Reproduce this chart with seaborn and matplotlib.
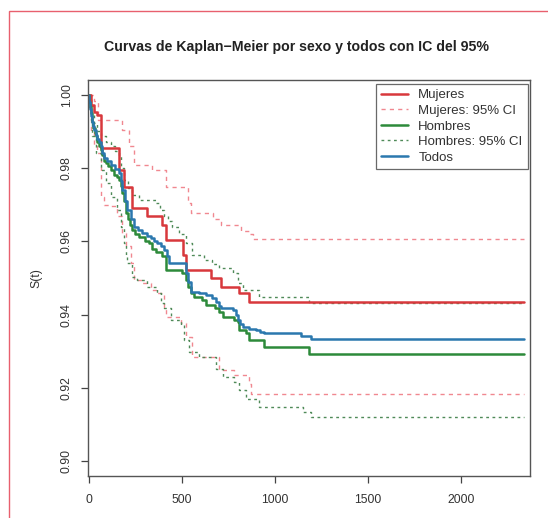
import matplotlib
matplotlib.use("Agg")
import matplotlib.pyplot as plt
import seaborn as sns
import pandas as pd
from matplotlib.lines import Line2D
from matplotlib.patches import Rectangle

# tiempo final de seguimiento (las curvas quedan planas hasta aqui)
t_end = 2340

# Kaplan-Meier, mujeres
t_muj = [0, 9, 27, 45, 63, 161, 188, 233, 314, 395, 413, 503, 521, 655, 709, 808, 862]
s_muj = [1.0, 0.9973, 0.9954, 0.9945, 0.9854, 0.9795, 0.9749, 0.9690, 0.9668, 0.9645,
         0.9604, 0.9563, 0.9522, 0.9499, 0.9476, 0.9458, 0.9435]

t_muj_up = [0, 27, 50, 180, 215, 242, 341, 413, 530, 548, 664, 709, 817, 862, 880]
s_muj_up = [1.0, 0.9982, 0.9932, 0.9904, 0.9859, 0.9809, 0.9795, 0.9749, 0.9704, 0.9677,
            0.9660, 0.9645, 0.9627, 0.9620, 0.9607]

t_muj_lo = [0, 9, 27, 45, 63, 81, 117, 152, 179, 197, 224, 242, 287, 332, 368, 404, 413,
            494, 521, 556, 700, 781, 862, 871]
s_muj_lo = [1.0, 0.990, 0.986, 0.984, 0.9722, 0.9700, 0.9695, 0.9668, 0.9622, 0.9586,
            0.9540, 0.9495, 0.9486, 0.9467, 0.9458, 0.9422, 0.9394, 0.9376, 0.9340, 0.9285,
            0.9249, 0.9235, 0.9212, 0.9185]

# Kaplan-Meier, hombres
t_hom = [0, 3, 6, 10, 14, 18, 24, 30, 36, 45, 54, 63, 72, 81, 90, 100, 117, 135, 150, 161,
         170, 180, 188, 197, 210, 222, 233, 250, 269, 300, 323, 340, 359, 390, 413, 502,
         521, 535, 548, 566, 610, 628, 680, 700, 718, 781, 799, 808, 844, 862, 942, 1185]
s_hom = [1.0, 0.998, 0.9965, 0.995, 0.9935, 0.9925, 0.991, 0.9895, 0.9886, 0.987, 0.986,
         0.985, 0.9835, 0.982, 0.9813, 0.9805, 0.9795, 0.978, 0.9775, 0.9768, 0.975,
         0.9731, 0.971, 0.9677, 0.966, 0.9645, 0.9631, 0.962, 0.9613, 0.9602, 0.9595,
         0.958, 0.9572, 0.956, 0.9522, 0.9513, 0.9495, 0.9475, 0.9458, 0.9449, 0.9440,
         0.9426, 0.9418, 0.9408, 0.9394, 0.9385, 0.9381, 0.9358, 0.9349, 0.9331, 0.9312,
         0.9294]

t_hom_up = [0, 10, 18, 27, 45, 63, 90, 117, 140, 161, 175, 188, 210, 233, 269, 359, 380,
            404, 425, 449, 485, 520, 556, 619, 660, 700, 772, 799, 826, 915, 1185]
s_hom_up = [1.0, 0.998, 0.9968, 0.9923, 0.990, 0.9886, 0.9872, 0.9859, 0.9845, 0.9832,
            0.980, 0.9768, 0.9745, 0.9727, 0.9713, 0.9704, 0.9685, 0.9668, 0.9655, 0.9640,
            0.9620, 0.9595, 0.9563, 0.9549, 0.9538, 0.9527, 0.9513, 0.9486, 0.9467, 0.9449,
            0.9432]

t_hom_lo = [0, 9, 18, 36, 63, 90, 117, 152, 170, 188, 197, 206, 233, 260, 314, 368, 386,
            404, 440, 494, 512, 539, 592, 682, 718, 781, 808, 844, 915, 1149, 1194]
s_hom_lo = [1.0, 0.9932, 0.9886, 0.9841, 0.9795, 0.9759, 0.9722, 0.9686, 0.9640, 0.9595,
            0.9558, 0.9540, 0.9504, 0.9495, 0.9476, 0.9458, 0.9431, 0.9417, 0.9385, 0.9372,
            0.9331, 0.9299, 0.9285, 0.9253, 0.9230, 0.9217, 0.9194, 0.9171, 0.9149, 0.9135,
            0.9121]

# Kaplan-Meier, todos
t_tod = [0, 3, 6, 9, 14, 20, 27, 36, 45, 54, 63, 72, 81, 99, 117, 140, 161, 170, 180, 193,
         206, 224, 242, 265, 287, 310, 332, 350, 368, 386, 404, 420, 430, 521, 535, 548,
         590, 628, 660, 682, 700, 709, 772, 790, 799, 812, 826, 862, 898, 920, 942, 1140,
         1194]
s_tod = [1.0, 0.998, 0.996, 0.9941, 0.9925, 0.9915, 0.9904, 0.989, 0.988, 0.9872, 0.986,
         0.984, 0.9827, 0.982, 0.9809, 0.9798, 0.9786, 0.9765, 0.9740, 0.971, 0.9686,
         0.966, 0.9640, 0.963, 0.9622, 0.9615, 0.9608, 0.960, 0.9595, 0.9586, 0.9577,
         0.956, 0.9542, 0.9513, 0.949, 0.9463, 0.9458, 0.9454, 0.9445, 0.9435, 0.9425,
         0.9417, 0.9413, 0.940, 0.9385, 0.9375, 0.9367, 0.9362, 0.9358, 0.9353, 0.9349,
         0.9342, 0.9335]

x_ticks = [0, 500, 1000, 1500, 2000]
y_ticks = [0.90, 0.92, 0.94, 0.96, 0.98, 1.00]

red = "#d8383c"
pink = "#f08890"
green = "#2d8a3a"
green_ci = "#4f8a58"
blue = "#2b78ae"


def km_frame(t, s):
    # alarga la curva hasta el final del seguimiento
    return pd.DataFrame({"t": list(t) + [t_end], "S": list(s) + [s[-1]]})


sns.set_style("white")
plt.rcParams['font.family'] = ['Liberation Sans', 'DejaVu Sans']

fig = plt.figure(figsize=(5.48, 5.18), dpi=100)
ax = fig.add_axes([88 / 548, 1 - 476 / 518, 442 / 548, 396 / 518])

curves = [
    (t_muj_up, s_muj_up, pink, 1.0, (3, 3)),
    (t_muj_lo, s_muj_lo, pink, 1.0, (3, 3)),
    (t_hom_up, s_hom_up, green_ci, 1.0, (2, 2.5)),
    (t_hom_lo, s_hom_lo, green_ci, 1.0, (2, 2.5)),
    (t_muj, s_muj, red, 1.8, None),
    (t_hom, s_hom, green, 1.8, None),
    (t_tod, s_tod, blue, 1.8, None),
]
for t, s, col, lw, dash in curves:
    d = km_frame(t, s)
    kw = dict(dashes=dash) if dash else {}
    sns.lineplot(data=d, x="t", y="S", ax=ax, color=col, linewidth=lw,
                 drawstyle="steps-post", estimator=None, sort=False, **kw)

ax.set_xlim(-5, 2370)
ax.set_ylim(0.896, 1.004)
ax.set_xticks(x_ticks)
ax.set_xticklabels([str(v) for v in x_ticks])
ax.set_yticks(y_ticks)
ax.set_yticklabels([f"{v:.2f}" for v in y_ticks], rotation=90, va="center")
ax.tick_params(axis="both", length=5, width=0.9, color="#444444", labelsize=8.8,
               labelcolor="#333333", direction="out", left=True, bottom=True)
ax.tick_params(axis="x", pad=8)
ax.tick_params(axis="y", pad=6)
ax.set_xlabel("")
ax.set_ylabel("S(t)", fontsize=8.8, color="#333333", labelpad=13)
for sp in ax.spines.values():
    sp.set_color("#555555")
    sp.set_linewidth(1.0)

fig.text(296 / 548, 1 - 47 / 518, "Curvas de Kaplan\u2212Meier por sexo y todos con IC del 95%",
         ha="center", va="center", fontsize=10.2, fontweight="bold", color="#222222")

handles = [
    Line2D([], [], color=red, lw=1.8),
    Line2D([], [], color=pink, lw=1.0, dashes=(3, 3)),
    Line2D([], [], color=green, lw=1.8),
    Line2D([], [], color=green_ci, lw=1.0, dashes=(2, 2.5)),
    Line2D([], [], color=blue, lw=1.8),
]
labels = ["Mujeres", "Mujeres: 95% CI", "Hombres", "Hombres: 95% CI", "Todos"]
leg = ax.legend(handles, labels, loc="upper right", bbox_to_anchor=(0.995, 0.99),
                borderaxespad=0, fontsize=9.5, frameon=True, fancybox=False,
                handlelength=2.0, handletextpad=0.8, labelspacing=0.25, borderpad=0.4)
leg.get_frame().set_edgecolor("#444444")
leg.get_frame().set_linewidth(0.9)
for txt in leg.get_texts():
    txt.set_color("#333333")

# marco rosado de la figura original
fig.patches.append(Rectangle((9 / 548, -0.1), 1.2, 1.1 - 11 / 518, transform=fig.transFigure,
                             fill=False, edgecolor="#e8606e", linewidth=1.0))

fig.savefig("out.png", dpi=100)
